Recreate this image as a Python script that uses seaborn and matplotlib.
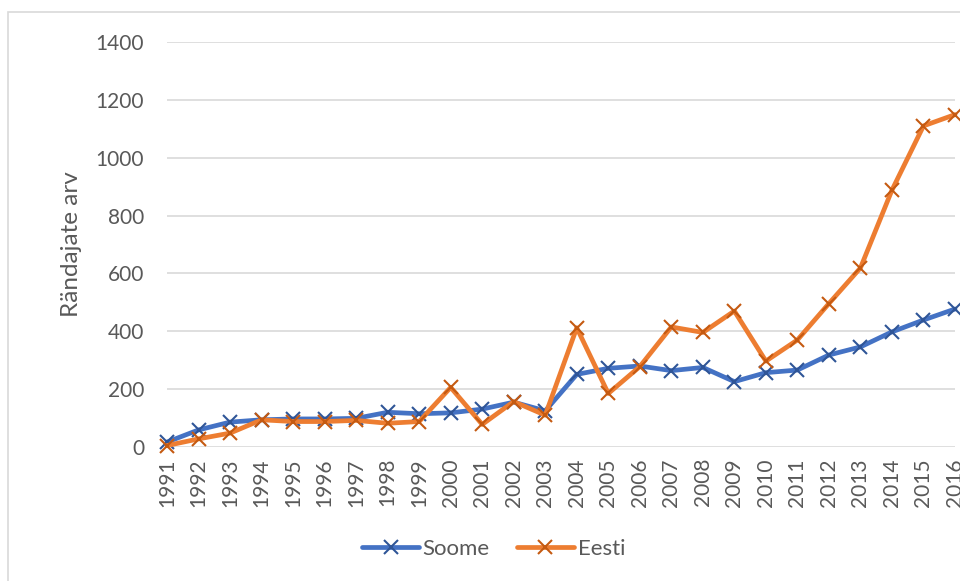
import pandas as pd
import matplotlib.pyplot as plt
import seaborn as sns
from matplotlib.patches import Rectangle

years = list(range(1991, 2017))
soome = [17, 59, 86, 94, 97, 97, 99, 120, 115, 118, 131, 155, 125, 251,
         272, 280, 264, 275, 226, 257, 266, 318, 346, 398, 439, 477]
eesti = [5, 28, 48, 94, 88, 88, 92, 82, 88, 206, 78, 157, 110, 412,
         185, 278, 415, 396, 470, 297, 370, 496, 619, 888, 1110, 1149]
yticks = [0, 200, 400, 600, 800, 1000, 1200, 1400]

df = pd.DataFrame({"year": years, "Soome": soome, "Eesti": eesti})

sns.set_style("white")
plt.rcParams["font.family"] = ["Lato", "DejaVu Sans"]
txt = "#595959"

fig = plt.figure(figsize=(9.6, 5.81), dpi=100)
ax = fig.add_axes([167 / 960, 1 - 447 / 581, 788 / 960, 405 / 581])

# chart border (partly cut off like in the screenshot)
fig.patches.append(Rectangle((8 / 960, -0.1), 1.2, 1.1 - 12.5 / 581,
                             transform=fig.transFigure, fill=False,
                             edgecolor="#d9d9d9", lw=1.2))

series = [("Soome", "#4472C4", "#2F5597"), ("Eesti", "#ED7D31", "#C55A11")]
for name, col, mcol in series:
    sns.lineplot(data=df, x="year", y=name, ax=ax, color=col, lw=3.4,
                 marker="x", markersize=10, markeredgecolor=mcol,
                 markeredgewidth=1.5, label=name, clip_on=False)

ax.set_xlim(1991, 2016)
ax.set_ylim(0, 1400)
ax.set_yticks(yticks)
ax.set_xticks(years)
ax.set_xticklabels([str(y) for y in years], rotation=90)
ax.tick_params(axis="both", length=0, labelsize=15, labelcolor=txt, pad=8)
ax.tick_params(axis="y", pad=16.5)
ax.yaxis.grid(True, color="#d9d9d9", lw=1.2)
ax.set_axisbelow(True)
for s in ax.spines.values():
    s.set_visible(False)
ax.set_xlabel("")
ax.set_ylabel("Rändajate arv", fontsize=17.5, color=txt)
ax.yaxis.set_label_coords(-0.1079, 0.5)

ax.legend_.remove()
h, l = ax.get_legend_handles_labels()
fig.legend(h, l, loc="center", bbox_to_anchor=(0.514, 0.055), ncol=2,
           frameon=False, fontsize=16, labelcolor=txt, handlelength=2.6,
           handletextpad=0.15, columnspacing=1.2)

fig.savefig("out.png", dpi=100)
